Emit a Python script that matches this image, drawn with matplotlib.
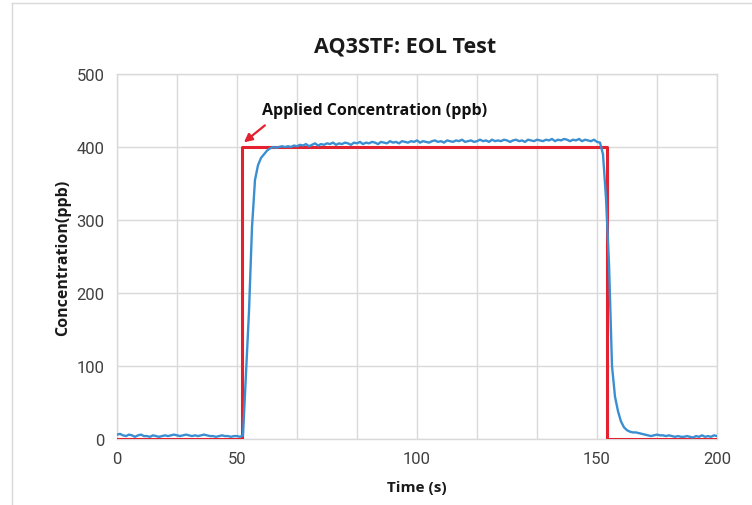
import matplotlib.pyplot as plt
from matplotlib.lines import Line2D

plt.rcParams.update({
    'font.family': ['Roboto', 'DejaVu Sans'],
    'font.size': 12,
})

# Sensor response, one sample per second (0..200 s)
time_s = list(range(0, 201))
sensor_ppb = [
    # 0-40
    6, 7, 5, 4, 6, 5, 3, 5, 6, 4, 4, 3, 5, 4, 3, 4, 5, 4, 5, 6,
    5, 4, 5, 6, 5, 4, 5, 4, 5, 6, 5, 4, 4, 3, 4, 5, 4, 4, 3, 4, 4,
    # 41-51 rise
    3, 5, 90, 175, 290, 355, 375, 385, 390, 395, 398,
    # 52-161 plateau
    400, 399, 400, 401, 400, 401, 400, 402, 401, 403,
    402, 404, 401, 403, 405, 402, 404, 403, 405, 404,
    406, 403, 405, 404, 406, 405, 403, 406, 405, 407,
    404, 406, 405, 407, 406, 404, 407, 406, 405, 408,
    406, 407, 405, 408, 407, 406, 408, 407, 409, 406,
    408, 407, 406, 408, 409, 407, 408, 406, 409, 408,
    407, 409, 408, 410, 407, 408, 409, 407, 408, 410,
    408, 409, 407, 410, 408, 409, 408, 410, 409, 407,
    409, 410, 408, 409, 407, 410, 409, 408, 410, 409,
    408, 410, 409, 411, 408, 410, 409, 411, 410, 408,
    410, 409, 411, 408, 410, 409, 408, 410, 407, 406,
    # 162-200 fall and tail
    390, 330, 240, 100, 58, 38, 24, 16, 12, 10,
    9, 9, 8, 7, 6, 5, 4, 5, 6, 5,
    5, 4, 5, 4, 3, 4, 3, 3, 4, 3,
    2, 4, 3, 5, 3, 4, 3, 5, 4,
]

# Applied gas concentration (step)
applied_t = [0, 41.5, 41.5, 163.3, 163.3, 200]
applied_ppb = [0, 0, 400, 400, 0, 0]

grid_ticks = list(range(0, 201, 20))
grid_labels = ['0', '', '50', '', '', '100', '', '', '150', '', '200']

blue = '#3b8fd1'
red = '#e3212f'
grid_col = '#d9d9d9'
text_col = '#404040'
bold_font = ['Open Sans', 'DejaVu Sans']

fig = plt.figure(figsize=(7.52, 5.06), dpi=100)
ax = fig.add_axes([117 / 752, 1 - 440 / 506, 600 / 752, 365 / 506])

ax.plot(applied_t, applied_ppb, color=red, lw=2.2, zorder=3)
ax.plot(time_s, sensor_ppb, color=blue, lw=1.7, zorder=4)

ax.set_xlim(0, 200)
ax.set_ylim(0, 500)
ax.set_xticks(grid_ticks)
ax.set_xticklabels(grid_labels)
ax.set_yticks(range(0, 501, 100))
ax.tick_params(length=0, labelsize=12, colors=text_col, pad=9)
ax.grid(True, color=grid_col, lw=1)
ax.set_axisbelow(True)
for sp in ax.spines.values():
    sp.set_color(grid_col)
    sp.set_linewidth(1)

ax.set_title('AQ3STF: EOL Test', fontsize=15.5, fontweight='bold', color='#1a1a1a',
             family=bold_font, x=(405 - 117) / 600, pad=16)
ax.set_xlabel('Time (s)', fontsize=11, fontweight='bold', color='#1a1a1a',
              family=bold_font, labelpad=10)
ax.set_ylabel('Concentration(ppb)', fontsize=11.5, fontweight='bold', color='#1a1a1a',
              family=bold_font, labelpad=4)

ax.text(48.3, 450, 'Applied Concentration (ppb)', fontsize=11.5, fontweight='bold',
        color='#111111', family=bold_font, ha='left', va='center')
ax.annotate('', xy=(41.6, 404), xytext=(50, 432),
            arrowprops=dict(arrowstyle='-|>', color=red, lw=1.6, mutation_scale=12))

# outer chart border
fig.add_artist(Line2D([12 / 752, 12 / 752], [0, 1 - 4 / 506], color=grid_col, lw=1))
fig.add_artist(Line2D([12 / 752, 1], [1 - 4 / 506, 1 - 4 / 506], color=grid_col, lw=1))

fig.savefig('out.png', dpi=100)
